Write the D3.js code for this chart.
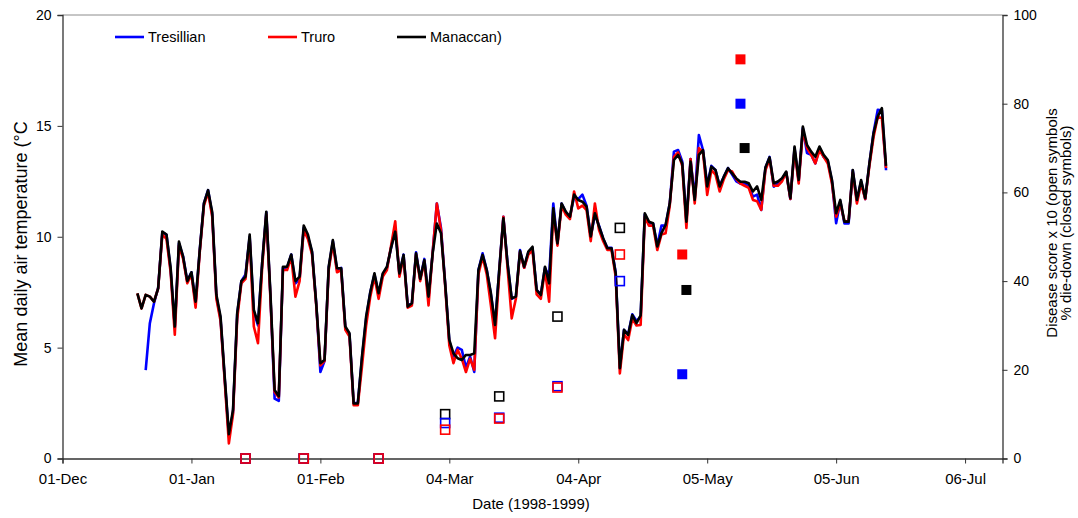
<!DOCTYPE html>
<html>
<head>
<meta charset="utf-8">
<script src="https://cdn.jsdelivr.net/npm/d3@7"></script>
<style>
  body { margin: 0; background: #fff; }
  svg { font-family: "Liberation Sans", Arial, sans-serif; }
</style>
</head>
<body>
<div id="chart"></div>
<script>
// daily mean air temperature (°C), one value per day from the start date
const manaccanStart = "1998-12-19"
const manaccanTemp = [
  7.45, 6.77, 7.38, 7.3, 7.07, 7.67, 10.23, 10.1, 8.6, 5.95,
  9.78, 9.1, 8.0, 8.4, 7.07, 9.4, 11.5, 12.1, 11.1, 7.38,
  6.4, 3.68, 1.1, 2.2, 6.55, 8.0, 8.2, 10.1, 6.7, 6.1,
  8.8, 11.13, 7.4, 3.09, 2.8, 8.65, 8.65, 9.2, 8.0, 8.2,
  10.5, 10.1, 9.33, 7.0, 4.3, 4.44, 8.65, 9.85, 8.58, 8.58,
  5.95, 5.65, 2.48, 2.48, 4.6, 6.4, 7.5, 8.35, 7.45, 8.35,
  8.65, 9.5, 10.23, 8.35, 9.18, 6.85, 7.0, 9.25, 8.1, 8.95,
  7.3, 9.25, 10.6, 10.16, 7.9, 5.35, 4.74, 4.52, 4.44, 4.67,
  4.67, 4.74, 8.5, 9.18, 8.5, 7.45, 6.02, 8.5, 10.83, 8.8,
  7.22, 7.3, 9.35, 8.65, 9.33, 9.55, 7.6, 7.37, 8.65, 7.9,
  11.28, 9.7, 11.5, 11.13, 10.9, 11.9, 11.66, 11.58, 11.36, 10.01,
  11.06, 10.46, 9.93, 9.48, 9.48, 8.35, 4.07, 5.8, 5.57, 6.47,
  6.1, 6.45, 11.06, 10.68, 10.61, 9.56, 10.16, 10.53, 11.51, 13.46,
  13.69, 13.31, 10.68, 13.39, 11.66, 13.69, 13.91, 12.27, 13.16, 13.01,
  12.27, 12.71, 13.09, 12.86, 12.63, 12.48, 12.48, 12.41, 12.04, 12.27,
  11.66, 13.12, 13.58, 12.41, 12.49, 12.64, 12.94, 11.74, 14.07, 12.56,
  14.97, 14.14, 13.84, 13.61, 14.07, 13.69, 13.46, 12.56, 11.06, 11.66,
  10.68, 10.68, 13.01, 11.66, 12.56, 11.74, 13.31, 14.67, 15.42, 15.8,
  13.2
]

const truroStart = "1998-12-19"
const truroTemp = [
  7.45, 6.77, 7.38, 7.3, 7.07, 7.67, 10.1, 9.9, 8.4, 5.58,
  9.6, 9.0, 7.9, 8.3, 6.8, 9.3, 11.4, 12.0, 10.9, 7.2,
  6.2, 3.5, 0.68, 2.0, 6.3, 7.9, 8.1, 9.9, 5.95, 5.2,
  8.6, 11.0, 7.2, 3.0, 2.75, 8.5, 8.5, 9.1, 7.3, 8.0,
  10.3, 9.9, 9.2, 6.9, 4.2, 4.4, 8.5, 9.7, 8.4, 8.5,
  5.8, 5.5, 2.4, 2.4, 4.14, 6.0, 7.3, 8.2, 7.2, 8.2,
  8.5, 9.6, 10.7, 8.2, 9.1, 6.8, 6.9, 9.2, 8.0, 8.9,
  6.9, 9.3, 11.5, 10.3, 7.8, 5.1, 4.3, 4.9, 4.5, 3.9,
  4.5, 4.0, 8.3, 9.1, 8.3, 6.9, 5.42, 8.3, 10.9, 8.6,
  6.32, 7.2, 9.3, 8.6, 9.2, 9.4, 7.4, 7.2, 8.5, 7.07,
  11.1, 9.6, 11.4, 11.0, 10.8, 12.04, 11.28, 11.4, 11.2, 9.8,
  11.5, 10.3, 9.8, 9.4, 9.4, 8.2, 3.84, 5.6, 5.34, 6.3,
  6.0, 6.02, 10.9, 10.5, 10.5, 9.4, 10.1, 10.16, 11.4, 13.6,
  13.8, 13.2, 10.4, 13.5, 11.5, 14.0, 13.8, 11.89, 13.0, 12.8,
  12.04, 12.6, 13.0, 12.94, 12.6, 12.4, 12.3, 12.2, 11.66, 11.6,
  11.21, 13.0, 13.5, 12.3, 12.3, 12.5, 12.9, 11.7, 13.9, 12.4,
  14.8, 14.0, 13.7, 13.31, 13.9, 13.6, 13.3, 12.4, 10.9, 11.5,
  10.7, 10.7, 12.9, 11.5, 12.4, 11.7, 13.2, 14.5, 15.4, 15.35,
  13.1
]

const tresillianStart = "1998-12-21"
const tresillianTemp = [
  3.99, 6.1, 7.0, 7.7, 10.2, 10.1, 8.5, 5.9,
  9.7, 9.1, 8.0, 8.4, 7.0, 9.4, 11.5, 12.1, 11.0, 7.3,
  6.3, 3.6, 1.0, 2.1, 6.5, 8.0, 8.3, 10.0, 6.6, 6.0,
  8.8, 11.1, 7.3, 2.7, 2.6, 8.6, 8.6, 9.2, 7.9, 8.1,
  10.4, 10.0, 9.3, 7.0, 3.9, 4.4, 8.6, 9.8, 8.5, 8.6,
  5.9, 5.6, 2.5, 2.5, 4.5, 6.3, 7.5, 8.3, 7.4, 8.3,
  8.6, 9.5, 10.4, 8.3, 9.2, 6.9, 7.0, 9.3, 8.1, 9.0,
  7.2, 9.3, 11.5, 10.4, 7.9, 5.3, 4.6, 5.0, 4.9, 4.1,
  4.6, 3.9, 8.5, 9.25, 8.5, 7.4, 6.0, 8.5, 10.9, 8.8,
  7.2, 7.3, 9.4, 8.6, 9.3, 9.5, 7.6, 7.4, 8.6, 8.2,
  11.5, 9.7, 11.5, 11.1, 10.9, 11.8, 11.7, 11.9, 11.4, 10.0,
  11.0, 10.5, 9.9, 9.5, 9.5, 8.4, 4.1, 5.8, 5.6, 6.5,
  6.2, 6.4, 11.0, 10.6, 10.6, 9.6, 10.5, 10.5, 11.5, 13.84,
  13.91, 13.4, 10.7, 13.5, 11.7, 14.59, 13.9, 12.3, 13.2, 13.0,
  12.3, 12.7, 13.1, 12.8, 12.5, 12.4, 12.4, 12.3, 11.81, 11.9,
  11.21, 13.1, 13.6, 12.26, 12.4, 12.6, 12.9, 11.7, 14.0, 12.5,
  14.9, 13.77, 13.7, 13.31, 14.0, 13.6, 13.4, 12.5, 10.61, 11.6,
  10.6, 10.6, 13.0, 11.6, 12.5, 11.7, 13.3, 14.7, 15.72, 15.7,
  13.0
]

// disease score x 10 (open symbols)
const scoreDates = ["1999-01-14", "1999-01-28", "1999-02-15", "1999-03-03", "1999-03-16", "1999-03-30", "1999-04-14"]
const scoreTresillian = [0, 0, 0, 8, 9.2, 16.3, 40]
const scoreTruro = [0, 0, 0, 6.5, 9, 16, 46]
const scoreManaccan = [0, 0, 0, 10, 14, 32, 52]

// % die-down (closed symbols)
const dieDatesTresillian = ["1999-04-29", "1999-05-13"]
const dieTresillian = [19, 80]
const dieDatesTruro = ["1999-04-29", "1999-05-13"]
const dieTruro = [46, 90]
const dieDatesManaccan = ["1999-04-30", "1999-05-14"]
const dieManaccan = [38, 70]

const xTicks = ["1998-12-01", "1999-01-01", "1999-02-01", "1999-03-04", "1999-04-04", "1999-05-05", "1999-06-05", "1999-07-06"]
const yLeftTicks = [0, 5, 10, 15, 20]
const yRightTicks = [0, 20, 40, 60, 80, 100]

const parse = d3.utcParse("%Y-%m-%d")

function dailySeries(start, values) {
  const t0 = parse(start)
  return values.map((v, i) => ({ date: d3.utcDay.offset(t0, i), value: v }))
}

const sites = [
  { name: "Tresillian", color: "#0000ff", temp: dailySeries(tresillianStart, tresillianTemp),
    score: scoreTresillian, dieDates: dieDatesTresillian, die: dieTresillian },
  { name: "Truro", color: "#ff0000", temp: dailySeries(truroStart, truroTemp),
    score: scoreTruro, dieDates: dieDatesTruro, die: dieTruro },
  { name: "Manaccan)", color: "#000000", temp: dailySeries(manaccanStart, manaccanTemp),
    score: scoreManaccan, dieDates: dieDatesManaccan, die: dieManaccan }
]

const width = 1078, height = 518
const plot = { left: 62.5, right: 1002.5, top: 15, bottom: 458.5 }

const svg = d3.select("#chart").append("svg")
  .attr("width", width)
  .attr("height", height)

const x = d3.scaleUtc()
  .domain([parse("1998-12-01"), parse("1999-07-15")])
  .range([plot.left, plot.right])
const y = d3.scaleLinear().domain([0, 20]).range([plot.bottom, plot.top])
const y2 = d3.scaleLinear().domain([0, 100]).range([plot.bottom, plot.top])

// top border
svg.append("line")
  .attr("x1", plot.left).attr("x2", plot.right)
  .attr("y1", plot.top).attr("y2", plot.top)
  .style("stroke", "#8c8c8c").style("stroke-width", 1)

const xAxis = svg.append("g")
  .attr("transform", `translate(0,${plot.bottom})`)
  .call(d3.axisBottom(x).tickValues(xTicks.map(parse)).tickFormat(d3.utcFormat("%d-%b")).tickSizeOuter(0).tickSize(5).tickPadding(10))
const yAxis = svg.append("g")
  .attr("transform", `translate(${plot.left},0)`)
  .call(d3.axisLeft(y).tickValues(yLeftTicks).tickSizeOuter(0).tickSize(5).tickPadding(6))
const yAxis2 = svg.append("g")
  .attr("transform", `translate(${plot.right},0)`)
  .call(d3.axisRight(y2).tickValues(yRightTicks).tickSizeOuter(0).tickSize(5).tickPadding(6))

;[xAxis, yAxis, yAxis2].forEach(a => {
  a.select(".domain").style("stroke", "#333").style("stroke-width", 1.3)
  a.selectAll(".tick line").style("stroke", "#333")
  a.selectAll("text").style("fill", "#000")
    .style("font-family", '"Liberation Sans", Arial, sans-serif')
})
xAxis.selectAll("text").style("font-size", "15px")
yAxis.selectAll("text").style("font-size", "14px")
yAxis2.selectAll("text").style("font-size", "14px")

// axis titles
svg.append("text")
  .attr("transform", `translate(27,${244}) rotate(-90)`)
  .attr("text-anchor", "middle")
  .style("font-size", "18px")
  .text("Mean daily air temperature (°C")

svg.append("text")
  .attr("x", 531).attr("y", 509)
  .attr("text-anchor", "middle")
  .style("font-size", "15px")
  .text("Date (1998-1999)")

const rightTitle = svg.append("text")
  .attr("transform", `translate(1057,${223}) rotate(-90)`)
  .attr("text-anchor", "middle")
  .style("font-size", "15px")
rightTitle.append("tspan").attr("x", 0).attr("dy", 0).text("Disease score x 10 (open symbols")
rightTitle.append("tspan").attr("x", 0).attr("dy", 14).text("% die-down (closed symbols)")

// temperature lines
const line = d3.line()
  .x(d => x(d.date))
  .y(d => y(d.value))

svg.append("g")
  .selectAll("path")
  .data(sites)
  .join("path")
  .attr("d", d => line(d.temp))
  .style("fill", "none")
  .style("stroke", d => d.color)
  .style("stroke-width", 2.6)
  .style("stroke-linejoin", "round")

// open symbols: disease score x 10 (black, then blue, red on top)
const open = 9
const openOrder = [sites[2], sites[0], sites[1]]
svg.append("g")
  .selectAll("g")
  .data(openOrder)
  .join("g")
  .selectAll("rect")
  .data(s => scoreDates.map((dt, i) => ({ date: parse(dt), value: s.score[i], color: s.color })))
  .join("rect")
  .attr("x", d => x(d.date) - open / 2)
  .attr("y", d => y2(d.value) - open / 2)
  .attr("width", open)
  .attr("height", open)
  .style("fill", "none")
  .style("stroke", d => d.color)
  .style("stroke-width", 1.6)

// closed symbols: % die-down
const closed = 10
svg.append("g")
  .selectAll("g")
  .data(sites)
  .join("g")
  .selectAll("rect")
  .data(s => s.dieDates.map((dt, i) => ({ date: parse(dt), value: s.die[i], color: s.color })))
  .join("rect")
  .attr("x", d => x(d.date) - closed / 2)
  .attr("y", d => y2(d.value) - closed / 2)
  .attr("width", closed)
  .attr("height", closed)
  .style("fill", d => d.color)

// legend
const legendX = [115, 268, 397]
const legend = svg.append("g")
  .selectAll("g")
  .data(sites)
  .join("g")
  .attr("transform", (d, i) => `translate(${legendX[i]},37)`)

legend.append("line")
  .attr("x1", 0).attr("x2", 29)
  .style("stroke", d => d.color)
  .style("stroke-width", 2.6)

legend.append("text")
  .attr("x", 33)
  .attr("y", 5)
  .style("font-size", "14.5px")
  .text(d => d.name)
</script>
</body>
</html>
